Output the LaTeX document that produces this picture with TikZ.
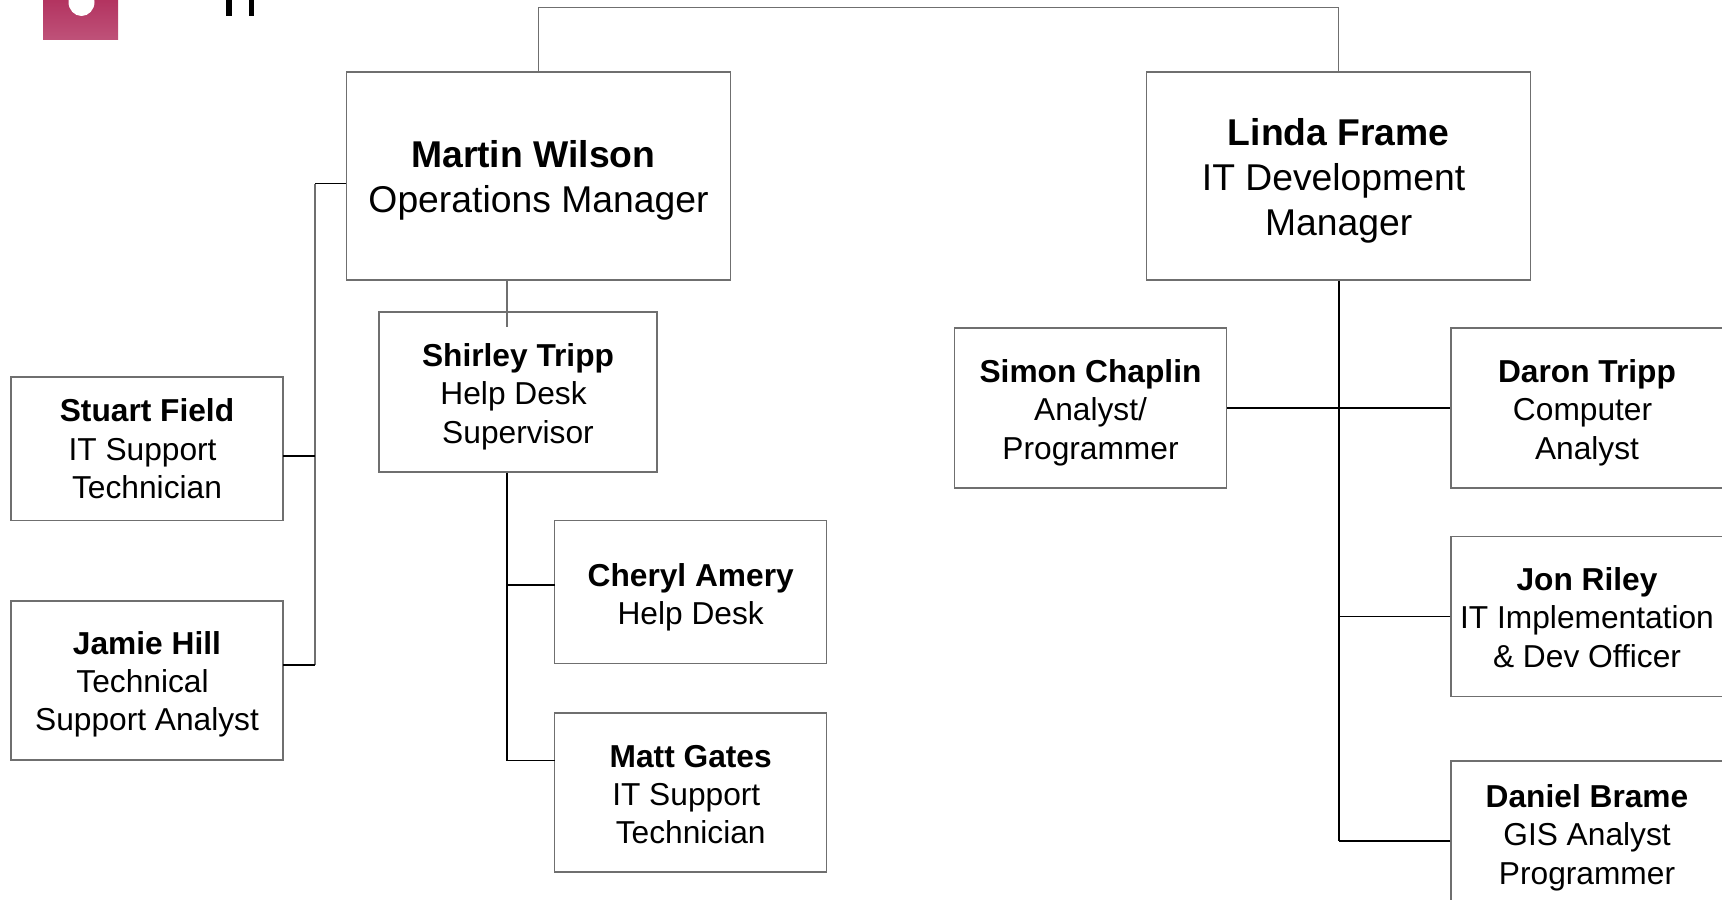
\documentclass[tikz,border=0pt]{standalone}
\usepackage{fontspec}
\setmainfont{Liberation Sans}
\definecolor{boxgrey}{HTML}{6F6F6F}
\definecolor{logotop}{HTML}{B2325F}
\definecolor{logobot}{HTML}{BF5279}
\newcommand{\trail}{\kern0.28em}
\newcommand{\tallline}[1]{\rule{0pt}{#1pt}}
\newcommand{\deepline}[1]{\rule[-#1pt]{0pt}{#1pt}}
\tikzset{
    person/.style={draw=boxgrey, line width=0.65pt, align=center, inner sep=0pt,
        font=\fontsize{15.85}{19.2}\selectfont, minimum width=136pt},
    manager/.style={person, font=\fontsize{18.65}{22.5}\selectfont,
        minimum width=192pt, minimum height=104pt},
    thinline/.style={draw=boxgrey, line width=0.65pt},
    busline/.style={draw=black, line width=0.75pt}
}
\begin{document}
\begin{tikzpicture}[x=0.5pt,y=-0.5pt]
    \useasboundingbox (0,0) rectangle (1722,899);
    \clip (0,0) rectangle (1722,899);
    % logo and heading, cut off by the page edge
    \shade[top color=logotop, bottom color=logobot] (43,-2) rectangle (118,40);
    \fill[white] (81.5,2) ellipse[x radius=13, y radius=14];
    \fill[black] (226,0) rectangle (232,16);
    \fill[black] (249,0) rectangle (254,16);
    % managers
    \node[manager] (martin) at (538.5,176) {\tallline{18}\textbf{Martin Wilson}\trail\\Operations Manager};
    \node[manager] (linda) at (1338.75,176) {\tallline{18}\textbf{Linda Frame}\\IT Development\trail\\Manager};
    % left side
    \node[person, minimum width=139pt, minimum height=80pt] (shirley) at (518,392) {\tallline{15.9}\textbf{Shirley Tripp}\\Help Desk\trail\\Supervisor};
    \node[person, minimum height=71.7pt] (stuart) at (147,448.7) {\textbf{Stuart Field}\\IT Support\trail\\Technician};
    \node[person, minimum height=79.5pt] (jamie) at (147,680.5) {\tallline{15.3}\textbf{Jamie Hill}\\Technical\trail\\Support Analyst};
    \node[person, minimum height=71.7pt] (cheryl) at (690.7,592) {\tallline{16.5}\textbf{Cheryl Amery}\\Help Desk};
    \node[person, minimum height=79.5pt] (matt) at (690.7,792.5) {\tallline{13.1}\textbf{Matt Gates}\\IT Support\trail\\Technician};
    % right side
    \node[person, minimum height=80pt] (simon) at (1090.5,408) {\tallline{15.9}\textbf{Simon Chaplin}\\Analyst/\\Programmer};
    \node[person, minimum height=80pt] (daron) at (1587,408) {\tallline{15.9}\textbf{Daron Tripp}\\Computer\trail\\Analyst};
    \node[person, minimum height=80pt] (jon) at (1587,616.5) {\tallline{12.6}\textbf{Jon Riley}\\IT Implementation\\\& Dev Officer};
    \node[person, minimum height=80pt] (daniel) at (1587,841) {\textbf{Daniel Brame}\\GIS Analyst\\Programmer\deepline{6.6}};
    % places where the lines run
    \coordinate (opsbus) at (315,183.5);
    \coordinate (deskbus) at (507,327);
    \coordinate (stuartend) at (283,456);
    \coordinate (jamieend) at (283,665);
    \coordinate (cherylend) at (554.5,585);
    \coordinate (mattend) at (554.5,760.5);
    % connectors
    \draw[thinline] (martin.north) -- ++(0,-63.5) -| (linda.north);
    \draw[thinline] (martin.south -| deskbus) -- (deskbus);
    \draw[busline] (martin.west |- opsbus) -- (opsbus);
    \draw[thinline] (opsbus) -- (opsbus |- jamieend);
    \foreach \branch in {stuartend,jamieend} {
        \draw[busline] (\branch) -- (\branch -| opsbus);
    }
    \draw[busline] (shirley.south -| deskbus) -- (deskbus |- mattend);
    \foreach \branch in {cherylend,mattend} {
        \draw[busline] (\branch) -- (\branch -| deskbus);
    }
    \draw[busline] (linda.south) -- (linda.south |- daniel.west);
    \draw[busline] (simon.east) -- (daron.west);
    \foreach \who in {jon,daniel} {
        \draw[busline] (\who.west) -- (\who.west -| linda.south);
    }
\end{tikzpicture}
\end{document}
